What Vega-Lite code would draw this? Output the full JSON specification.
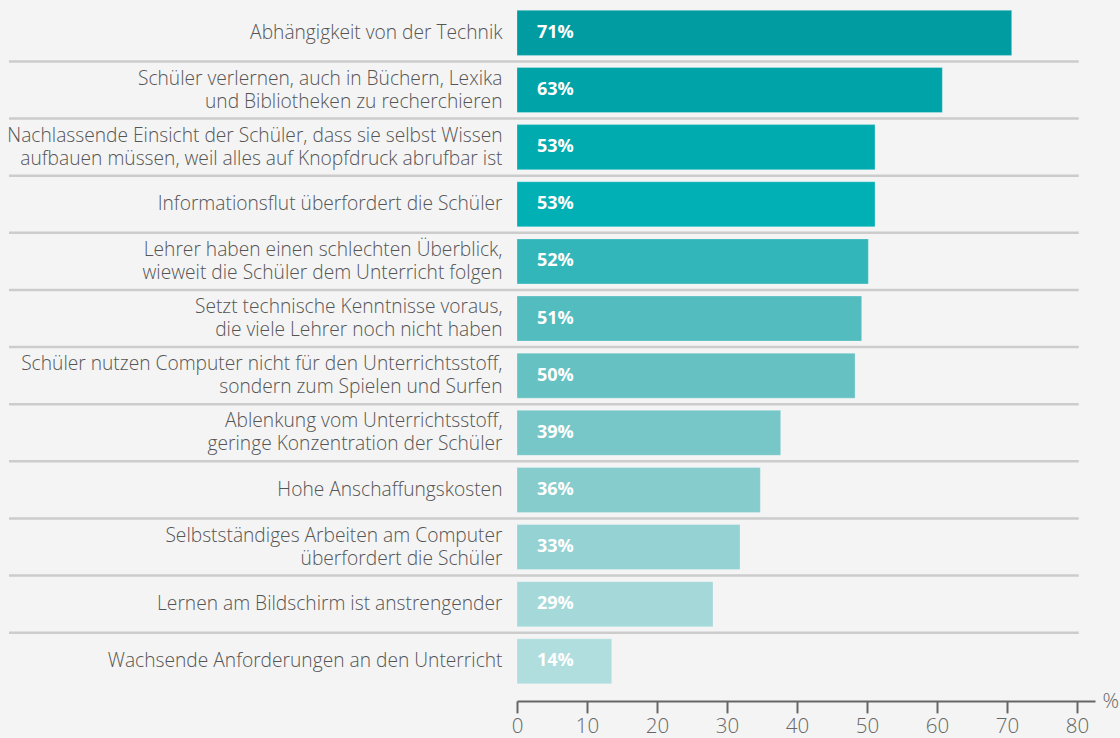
{
  "$schema": "https://vega.github.io/schema/vega-lite/v6.json",
  "autosize": "none",
  "padding": {"left": 517, "top": 4.3, "right": 25, "bottom": 48.1},
  "width": 578,
  "height": 685.6,
  "background": "#f4f4f4",
  "config": {"view": {"stroke": null}},
  "data": {"values": [
    {"rank": 1, "cat": "Abhängigkeit von der Technik", "value": 70.67, "label": "71%"},
    {"rank": 2, "cat": "Schüler verlernen, auch in Büchern, Lexika|und Bibliotheken zu recherchieren", "value": 60.76, "label": "63%"},
    {"rank": 3, "cat": "Nachlassende Einsicht der Schüler, dass sie selbst Wissen|aufbauen müssen, weil alles auf Knopfdruck abrufbar ist", "value": 51.14, "label": "53%"},
    {"rank": 4, "cat": "Informationsflut überfordert die Schüler", "value": 51.14, "label": "53%"},
    {"rank": 5, "cat": "Lehrer haben einen schlechten Überblick,|wieweit die Schüler dem Unterricht folgen", "value": 50.19, "label": "52%"},
    {"rank": 6, "cat": "Setzt technische Kenntnisse voraus,|die viele Lehrer noch nicht haben", "value": 49.24, "label": "51%"},
    {"rank": 7, "cat": "Schüler nutzen Computer nicht für den Unterrichtsstoff,|sondern zum Spielen und Surfen", "value": 48.29, "label": "50%"},
    {"rank": 8, "cat": "Ablenkung vom Unterrichtsstoff,|geringe Konzentration der Schüler", "value": 37.67, "label": "39%"},
    {"rank": 9, "cat": "Hohe Anschaffungskosten", "value": 34.76, "label": "36%"},
    {"rank": 10, "cat": "Selbstständiges Arbeiten am Computer|überfordert die Schüler", "value": 31.86, "label": "33%"},
    {"rank": 11, "cat": "Lernen am Bildschirm ist anstrengender", "value": 28.0, "label": "29%"},
    {"rank": 12, "cat": "Wachsende Anforderungen an den Unterricht", "value": 13.53, "label": "14%"}
  ]},
  "encoding": {
    "y": {
      "field": "cat", "type": "nominal", "sort": null,
      "scale": {"paddingInner": 0.212, "paddingOuter": 0.106},
      "axis": {
        "title": null, "domain": false, "ticks": false, "grid": false,
        "labelPadding": 15, "labelFont": "Open Sans", "labelFontWeight": 300,
        "labelFontSize": 19.2, "labelColor": "#555555", "labelLimit": 600,
        "labelLineHeight": 23, "labelExpr": "split(datum.label, '|')",
        "labelOffset": {"condition": {"test": "indexof(datum.value, '|') >= 0", "value": -11.5}, "value": 0}
      }
    }
  },
  "layer": [
    {
      "transform": [{"filter": "datum.rank < 12"}],
      "mark": {"type": "rule", "stroke": "#cccccc", "strokeWidth": 2.5, "clip": false},
      "encoding": {
        "y": {"field": "cat", "type": "nominal", "sort": null, "bandPosition": 1.134},
        "x": {"datum": -72.57, "type": "quantitative"},
        "x2": {"datum": 80.25}
      }
    },
    {
      "mark": {"type": "bar", "stroke": "#ffffff", "strokeOpacity": 0.25, "strokeWidth": 1},
      "encoding": {
        "x": {
          "field": "value", "type": "quantitative",
          "scale": {"domain": [0, 82.57], "nice": false, "zero": true},
          "axis": {
            "values": [0, 10, 20, 30, 40, 50, 60, 70, 80],
            "offset": 11, "grid": false, "labelFlush": false,
            "domainColor": "#666666", "domainWidth": 2,
            "tickColor": "#666666", "tickWidth": 2, "tickSize": 12,
            "labelFont": "Open Sans", "labelFontWeight": 300, "labelFontSize": 20.5,
            "labelColor": "#666666", "labelPadding": 4,
            "title": "%", "titleFont": "Open Sans", "titleFontWeight": 300,
            "titleFontSize": 20.5, "titleColor": "#666666",
            "titleX": 585, "titleY": 1, "titleAlign": "left", "titleBaseline": "middle",
            "titleAnchor": null
          }
        },
        "color": {
          "field": "rank", "type": "ordinal", "legend": null,
          "scale": {
            "domain": [1, 2, 3, 4, 5, 6, 7, 8, 9, 10, 11, 12],
            "range": ["#009ca2", "#00a3a8", "#00abb0", "#00b0b5", "#33b6b9", "#52bcbe", "#66c1c3", "#78c7c8", "#86cccd", "#95d2d3", "#a4d8d9", "#b0dddd"]
          }
        }
      }
    },
    {
      "mark": {"type": "text", "align": "left", "baseline": "middle", "dx": 20, "font": "Open Sans", "fontWeight": "bold", "fontSize": 18, "color": "#ffffff"},
      "encoding": {
        "x": {"datum": 0, "type": "quantitative"},
        "text": {"field": "label"}
      }
    }
  ]
}
